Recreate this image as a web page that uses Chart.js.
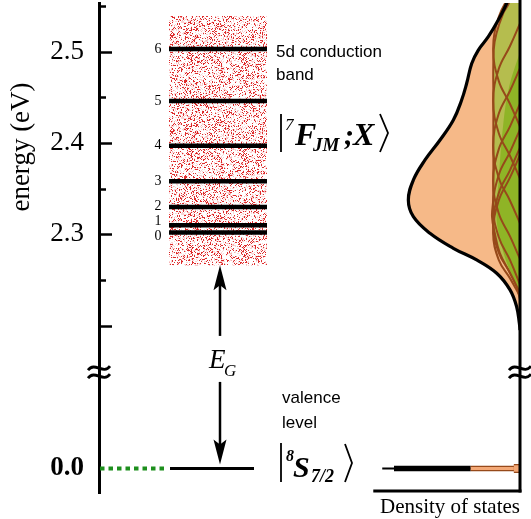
<!DOCTYPE html>
<html>
<head>
<meta charset="utf-8">
<script src="https://cdn.jsdelivr.net/npm/chart.js@4/dist/chart.umd.min.js"></script>
<style>
  html, body { margin: 0; padding: 0; background: #fff; }
</style>
</head>
<body>
<canvas id="levelChart" width="531" height="519"></canvas>
<script>
const SERIF = '"Liberation Serif", "Times New Roman", serif';
const SANS = '"Liberation Sans", Arial, sans-serif';

// 7F_J levels inside the 5d conduction band (eV)
const levelLabels = ['0', '1', '2', '3', '4', '5', '6'];
const levelEnergies = [2.302, 2.310, 2.330, 2.358, 2.397, 2.446, 2.503];
const bandEdges = [2.266, 2.539];
const valenceEnergy = 0.0;

// energy axis
const tickEnergies = [0.0, 2.3, 2.4, 2.5];
const tickText = ['0.0', '2.3', '2.4', '2.5'];
const majorMarks = [2.2, 2.3, 2.4, 2.5];
const minorMarks = [2.25, 2.35, 2.45, 2.55];
const breakEnergy = 2.149;

// total density of states
const dosEnergy = [2.57, 2.553, 2.5347, 2.5164, 2.5018, 2.4871, 2.4654, 2.4471, 2.4252, 2.4033, 2.3814,
  2.3595, 2.3376, 2.3193, 2.3011, 2.2847, 2.2719, 2.2573, 2.2391, 2.2207, 2.2028, 2.1952];
const dosValue = [0.07, 0.119, 0.194, 0.283, 0.372, 0.431, 0.476, 0.521, 0.595, 0.714, 0.848,
  0.952, 0.997, 0.952, 0.804, 0.595, 0.387, 0.208, 0.089, 0.030, 0.006, 0];

// green part (sum of the partial curves) and its brighter core
const envEnergy = [2.57, 2.553, 2.542, 2.5201, 2.5018, 2.4471, 2.3923, 2.3376, 2.3193, 2.3011, 2.2795, 2.2576, 2.2426, 2.228];
const envValue = [0.06, 0.10, 0.15, 0.21, 0.235, 0.238, 0.238, 0.24, 0.25, 0.225, 0.18, 0.09, 0.03, 0];
const coreEnergy = [2.50, 2.46, 2.42, 2.36, 2.32, 2.29, 2.26, 2.235];
const coreValue = [0, 0.10, 0.15, 0.19, 0.21, 0.17, 0.09, 0];

// partial curves, one per level
const partialShape = [0, 0.09, 0.19, 0.24, 0.19, 0.09, 0];
const partialEnergy = [
  [2.387, 2.362, 2.337, 2.302, 2.272, 2.252, 2.232],
  [2.395, 2.370, 2.345, 2.310, 2.280, 2.258, 2.236],
  [2.415, 2.390, 2.365, 2.330, 2.297, 2.272, 2.245],
  [2.443, 2.418, 2.393, 2.358, 2.323, 2.298, 2.273],
  [2.482, 2.457, 2.432, 2.397, 2.362, 2.337, 2.312],
  [2.531, 2.506, 2.481, 2.446, 2.411, 2.386, 2.361],
  [2.588, 2.563, 2.538, 2.503, 2.468, 2.443, 2.418]
];

// valence level density of states
const valenceTail = [1.23, 0];
const valenceCore = [1.125, 0.44];
const valenceEdge = [0.44, 0.04];
const valenceSpike = [0.055, 0];

// layout
const VB_SHIFT = 2.0435;          // where 0.0 sits below the axis break
const BAND_X = [70, 168];
const VALENCE_X = [71, 155];
const DOTTED_X = [1, 68];
const ARROW_X = 121;
const DOS_AXIS_LEN = 1.31;

// stippled texture for the conduction band
function dotPattern() {
  const n = 96;
  const c = document.createElement('canvas');
  c.width = n; c.height = n;
  const g = c.getContext('2d');
  g.fillStyle = '#fff';
  g.fillRect(0, 0, n, n);
  let s = 12345;
  const next = () => (s = (s * 16807) % 2147483647) / 2147483647;
  g.fillStyle = 'rgba(230,60,60,0.22)';
  for (let i = 0; i < 2600; i++) g.fillRect(Math.floor(next() * n), Math.floor(next() * n), 1, 1);
  g.fillStyle = 'rgba(218,24,24,0.9)';
  for (let i = 0; i < 1900; i++) g.fillRect(Math.floor(next() * n), Math.floor(next() * n), 1, 1);
  return g.createPattern(c, 'repeat');
}

const lineSeg = (xs, e, extra) => Object.assign({
  xAxisID: 'x', yAxisID: 'y',
  data: xs.map(x => ({x: x, y: e})),
  pointRadius: 0, fill: false, borderCapStyle: 'butt'
}, extra);

const dosLine = (es, ns, extra) => Object.assign({
  indexAxis: 'y', xAxisID: 'xd', yAxisID: 'y',
  data: es.map((e, i) => ({x: ns[i], y: e})),
  pointRadius: 0, fill: false, tension: 0.4
}, extra);

const NONE = 'rgba(0,0,0,0)';
const BROWN = '#96491a';
const vE = VB_SHIFT + valenceEnergy;

const datasets = [];
datasets.push(lineSeg(BAND_X, bandEdges[1], {order: 100, borderColor: NONE, borderWidth: 1,
  fill: {value: bandEdges[0]}, backgroundColor: dotPattern()}));
levelEnergies.forEach(e => datasets.push(lineSeg(BAND_X, e, {order: 90, borderColor: '#000', borderWidth: 4.5})));
datasets.push(lineSeg(DOTTED_X, vE, {order: 90, borderColor: '#1d8f1d', borderWidth: 4, borderDash: [4.5, 4]}));
datasets.push(lineSeg(VALENCE_X, vE, {order: 90, borderColor: '#000', borderWidth: 3}));
datasets.push(dosLine(dosEnergy, dosValue, {order: 80, fill: 'origin', backgroundColor: '#f6b988', borderColor: NONE, borderWidth: 1}));
datasets.push(dosLine(envEnergy, envValue, {order: 70, fill: 'origin', backgroundColor: '#b5bd4e', borderColor: BROWN, borderWidth: 2}));
datasets.push(dosLine(coreEnergy, coreValue, {order: 60, fill: 'origin', backgroundColor: '#8fb426', borderColor: NONE, borderWidth: 1}));
partialEnergy.forEach(es => datasets.push(dosLine(es, partialShape, {order: 50, borderColor: BROWN, borderWidth: 2})));
datasets.push(dosLine(dosEnergy, dosValue, {order: 40, borderColor: '#000', borderWidth: 3.2}));
datasets.push(lineSeg(valenceTail, vE, {xAxisID: 'xd', order: 36, borderColor: '#000', borderWidth: 2}));
datasets.push(lineSeg(valenceCore, vE, {xAxisID: 'xd', order: 35, borderColor: '#000', borderWidth: 5.5}));
datasets.push(lineSeg(valenceEdge, vE, {xAxisID: 'xd', order: 34, borderColor: BROWN, borderWidth: 5.5}));
datasets.push(lineSeg(valenceEdge, vE, {xAxisID: 'xd', order: 33, borderColor: '#f3a876', borderWidth: 3}));
datasets.push(lineSeg(valenceSpike, vE, {xAxisID: 'xd', order: 32, borderColor: BROWN, borderWidth: 9}));
datasets.push(lineSeg(valenceSpike, vE, {xAxisID: 'xd', order: 31, borderColor: '#f3a876', borderWidth: 6.5}));

const decorations = {
  id: 'decorations',
  afterDraw(chart) {
    const {ctx, chartArea: a, scales: {x, xd, y}} = chart;
    const py = e => y.getPixelForValue(e);
    ctx.save();
    ctx.strokeStyle = '#000';
    ctx.fillStyle = '#000';
    ctx.lineCap = 'butt';

    const hline = (x0, x1, yy) => { ctx.beginPath(); ctx.moveTo(x0, yy); ctx.lineTo(x1, yy); ctx.stroke(); };
    const vline = (xx, y0, y1) => { ctx.beginPath(); ctx.moveTo(xx, y0); ctx.lineTo(xx, y1); ctx.stroke(); };

    // inward tick marks
    ctx.lineWidth = 2.5;
    majorMarks.forEach(e => hline(a.left, a.left + 13, Math.round(py(e)) + 0.5));
    minorMarks.forEach(e => hline(a.left, a.left + 7, Math.round(py(e)) + 0.5));

    // DOS panel frame
    ctx.lineWidth = 3;
    const baseY = a.bottom - 2;
    vline(a.right, 0, baseY + 1.5);
    hline(xd.getPixelForValue(DOS_AXIS_LEN), a.right + 1.5, baseY);

    // axis breaks
    const squiggle = (cx, cy) => {
      ctx.lineWidth = 2.8;
      for (const dy of [-4, 4]) {
        ctx.beginPath();
        ctx.moveTo(cx - 11, cy + dy + 2);
        ctx.bezierCurveTo(cx - 4, cy + dy - 7, cx + 4, cy + dy + 7, cx + 11, cy + dy - 2);
        ctx.stroke();
      }
    };
    squiggle(a.left, py(breakEnergy));
    squiggle(a.right, py(breakEnergy));

    // axis title
    ctx.save();
    ctx.translate(22, 147);
    ctx.rotate(-Math.PI / 2);
    ctx.font = '27px ' + SERIF;
    ctx.textAlign = 'center';
    ctx.textBaseline = 'middle';
    ctx.fillText('energy (eV)', 0, 0);
    ctx.restore();

    // level numbers
    ctx.font = '14px ' + SERIF;
    ctx.textAlign = 'center';
    ctx.textBaseline = 'middle';
    const nudge = [4, -4, -1, 0, 0, 0, 0];
    levelEnergies.forEach((e, i) => ctx.fillText(levelLabels[i], 158, py(e) + nudge[i]));

    // band labels
    ctx.textAlign = 'left';
    ctx.font = '17px ' + SANS;
    ctx.fillText('5d conduction', 276, 52);
    ctx.fillText('band', 276, 75);
    ctx.fillText('valence', 282, 398);
    ctx.fillText('level', 282, 423);

    // kets
    ctx.textBaseline = 'alphabetic';
    const piece = (t, font, px, by) => { ctx.font = font; ctx.fillText(t, px, by); };
    const bracket = (x0, y0, y1, w) => {
      ctx.lineWidth = 1.8;
      ctx.beginPath(); ctx.moveTo(x0, y0); ctx.lineTo(x0 + w, (y0 + y1) / 2); ctx.lineTo(x0, y1); ctx.stroke();
    };
    ctx.lineWidth = 1.8;
    vline(281, 114, 152);
    piece('7', 'italic 17px ' + SERIF, 285, 130);
    piece('F', 'italic bold 32px ' + SERIF, 295, 145);
    piece('JM', 'italic bold 19px ' + SERIF, 313, 151);
    piece(';', 'italic bold 30px ' + SERIF, 344, 145);
    piece('X', 'italic bold 32px ' + SERIF, 353, 145);
    bracket(380, 114, 152, 8);

    ctx.lineWidth = 1.8;
    vline(281, 443, 482);
    piece('8', 'italic bold 16px ' + SERIF, 286, 461);
    piece('S', 'italic bold 30px ' + SERIF, 293, 477);
    piece('7/2', 'italic bold 18px ' + SERIF, 311, 482);
    bracket(345, 444, 482, 7);

    // band gap arrow
    const ax = x.getPixelForValue(ARROW_X);
    const top = py(bandEdges[0]);
    const bot = py(vE) - 4;
    const mid = (top + bot) / 2 - 6;
    ctx.lineWidth = 2.5;
    vline(ax, top + 18, mid - 23);
    vline(ax, mid + 23, bot - 18);
    const head = (tip, dir) => {
      ctx.beginPath();
      ctx.moveTo(ax, tip);
      ctx.lineTo(ax - 6.5, tip + dir * 25);
      ctx.lineTo(ax, tip + dir * 20);
      ctx.lineTo(ax + 6.5, tip + dir * 25);
      ctx.closePath();
      ctx.fill();
    };
    head(top, 1);
    head(bot, -1);
    piece('E', 'italic 27px ' + SERIF, ax - 11, mid + 9);
    piece('G', 'italic 17px ' + SERIF, ax + 4, mid + 17);

    // DOS axis caption
    ctx.font = '21px ' + SERIF;
    ctx.textAlign = 'center';
    ctx.textBaseline = 'middle';
    ctx.fillText('Density of states', 450, 507);

    ctx.restore();
  }
};

new Chart(document.getElementById('levelChart'), {
  type: 'line',
  data: {datasets: datasets},
  options: {
    responsive: false,
    devicePixelRatio: 1,
    animation: false,
    layout: {padding: {top: 3, right: 11, bottom: 26, left: 0}},
    plugins: {legend: {display: false}, tooltip: {enabled: false}, title: {display: false}},
    scales: {
      x: {type: 'linear', min: 0, max: 421, display: false},
      xd: {type: 'linear', min: 0, max: 421 / 112, reverse: true, display: false},
      y: {
        type: 'linear',
        position: 'left',
        min: 2.01665,
        max: 2.55334,
        afterBuildTicks: s => { s.ticks = tickEnergies.map(e => ({value: e < 1 ? e + VB_SHIFT : e})); },
        afterFit: s => { s.width = 99; s.paddingTop = 0; s.paddingBottom = 0; },
        grid: {display: false, drawTicks: false},
        border: {display: true, color: '#000', width: 3},
        ticks: {
          autoSkip: false,
          padding: 15,
          color: '#000',
          font: c => ({family: SERIF, size: 27, weight: c.index === 0 ? 'bold' : 'normal'}),
          callback: (v, i) => tickText[i]
        }
      }
    }
  },
  plugins: [decorations]
});
</script>
</body>
</html>
